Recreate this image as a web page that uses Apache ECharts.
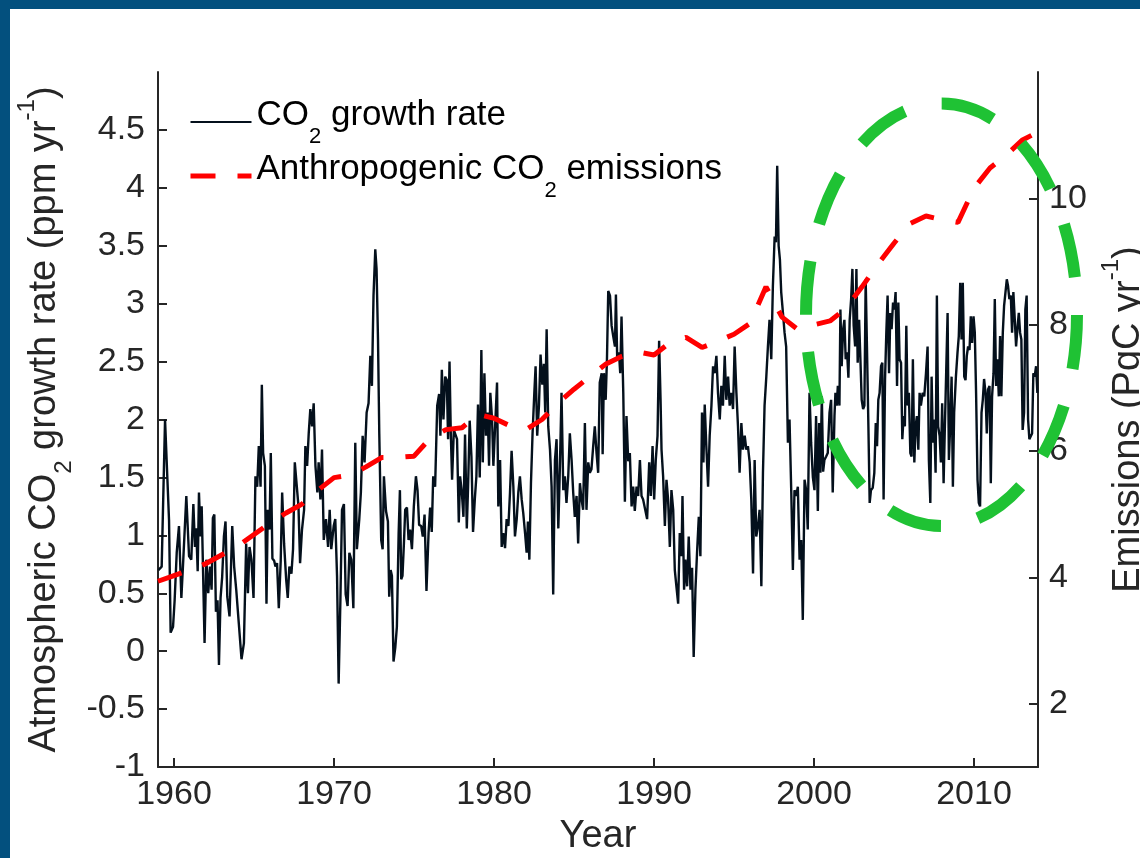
<!DOCTYPE html>
<html><head><meta charset="utf-8">
<script src="https://cdn.jsdelivr.net/npm/echarts@6/dist/echarts.min.js"></script>
<style>html,body{margin:0;padding:0;background:#fff}#c{width:1140px;height:858px}</style>
</head><body><div id="c"></div>
<script>
// Monthly-ish CO2 growth rate readings [year, ppm/yr]
const co2Growth = [
[1959.02,0.70],[1959.23,0.73],[1959.44,2.00],[1959.58,1.51],[1959.69,1.13],[1959.79,0.16],[1959.94,0.21],[1960.04,0.44],[1960.17,0.85],[1960.31,1.08],[1960.46,0.46],[1960.58,0.79],[1960.77,1.34],[1960.94,0.82],[1961.08,0.79],[1961.21,1.27],[1961.31,0.90],[1961.39,1.06],[1961.48,0.69],[1961.56,1.37],[1961.66,0.99],[1961.73,1.25],[1961.81,0.73],[1961.91,0.07],[1962.02,0.79],[1962.14,0.50],[1962.25,0.73],[1962.35,0.53],[1962.43,1.15],[1962.52,1.18],[1962.62,0.34],[1962.72,0.44],[1962.81,-0.12],[1962.91,0.46],[1963.01,0.64],[1963.12,0.99],[1963.22,1.12],[1963.33,0.47],[1963.47,0.30],[1963.64,1.08],[1963.76,0.73],[1963.89,0.53],[1964.05,0.24],[1964.22,-0.07],[1964.37,0.07],[1964.51,0.93],[1964.62,0.50],[1964.72,0.90],[1964.84,0.79],[1964.97,0.46],[1965.09,1.51],[1965.20,1.42],[1965.30,1.77],[1965.41,1.42],[1965.49,2.30],[1965.57,1.71],[1965.68,1.60],[1965.78,0.41],[1965.86,1.22],[1965.97,1.05],[1966.05,1.71],[1966.15,0.80],[1966.26,0.78],[1966.34,0.73],[1966.44,0.76],[1966.55,0.37],[1966.67,0.78],[1966.76,1.37],[1966.88,0.93],[1967.01,0.62],[1967.11,0.46],[1967.21,0.73],[1967.34,0.67],[1967.44,0.88],[1967.55,1.63],[1967.65,1.64],[1967.78,1.25],[1967.88,0.76],[1968.00,1.05],[1968.13,1.22],[1968.21,1.77],[1968.32,1.60],[1968.42,1.88],[1968.52,2.09],[1968.63,1.94],[1968.73,2.14],[1968.84,1.60],[1968.96,1.37],[1969.04,1.63],[1969.15,1.31],[1969.25,1.74],[1969.36,0.96],[1969.50,1.14],[1969.63,0.90],[1969.73,1.22],[1969.83,0.88],[1969.98,1.08],[1970.08,1.14],[1970.19,0.65],[1970.29,-0.28],[1970.40,0.44],[1970.50,1.22],[1970.62,1.27],[1970.73,0.49],[1970.85,0.39],[1970.96,0.85],[1971.08,0.79],[1971.21,0.37],[1971.33,1.80],[1971.43,0.88],[1971.58,1.14],[1971.68,1.37],[1971.79,1.86],[1971.91,1.63],[1972.04,2.06],[1972.16,2.14],[1972.27,2.55],[1972.37,2.29],[1972.47,3.07],[1972.58,3.47],[1972.66,3.30],[1972.75,2.69],[1972.83,1.88],[1972.95,0.96],
[1973.04,0.88],[1973.12,1.51],[1973.25,1.21],[1973.37,1.12],[1973.45,0.47],[1973.54,0.70],[1973.62,0.65],[1973.72,-0.09],[1973.83,0.03],[1973.93,0.21],[1974.04,1.02],[1974.12,1.39],[1974.20,0.62],[1974.28,0.65],[1974.37,0.93],[1974.45,1.22],[1974.56,1.24],[1974.66,0.96],[1974.76,1.05],[1974.87,0.88],[1974.99,1.25],[1975.12,1.51],[1975.22,1.39],[1975.32,1.09],[1975.45,1.08],[1975.55,0.99],[1975.66,1.18],[1975.78,0.52],[1975.91,1.02],[1976.01,1.24],[1976.11,1.03],[1976.20,1.51],[1976.32,1.42],[1976.45,2.12],[1976.57,2.22],[1976.65,1.86],[1976.74,2.43],[1976.84,2.00],[1976.95,2.37],[1977.05,2.34],[1977.13,1.83],[1977.22,2.50],[1977.30,1.88],[1977.38,1.48],[1977.49,1.91],[1977.59,1.91],[1977.69,1.83],[1977.80,1.11],[1977.88,1.51],[1977.99,1.37],[1978.09,1.16],[1978.19,1.87],[1978.30,1.06],[1978.38,1.42],[1978.48,1.99],[1978.59,1.68],[1978.69,1.03],[1978.80,1.31],[1978.90,1.51],[1979.00,2.13],[1979.11,1.50],[1979.21,2.60],[1979.30,1.63],[1979.40,2.40],[1979.50,1.86],[1979.61,2.06],[1979.69,1.60],[1979.77,2.23],[1979.88,2.00],[1979.96,1.60],[1980.07,1.94],[1980.19,2.32],[1980.27,1.25],[1980.38,1.65],[1980.48,0.90],[1980.58,1.02],[1980.69,0.89],[1980.79,1.14],[1980.90,1.08],[1981.00,1.37],[1981.10,1.73],[1981.21,1.42],[1981.31,0.99],[1981.42,1.14],[1981.52,1.37],[1981.62,1.51],[1981.73,1.31],[1981.83,1.19],[1981.94,1.02],[1982.04,0.85],[1982.12,1.12],[1982.21,0.79],[1982.31,1.45],[1982.41,1.88],[1982.52,2.23],[1982.60,2.46],[1982.70,1.86],[1982.81,2.12],[1982.91,2.56],[1983.02,2.30],[1983.12,2.48],[1983.20,2.06],[1983.29,2.78],[1983.39,1.94],[1983.50,1.74],[1983.60,1.42],[1983.70,0.49],[1983.81,1.65],[1983.91,1.83],[1984.02,1.06],[1984.12,1.60],[1984.22,2.23],[1984.33,1.39],[1984.43,1.51],[1984.53,1.28],[1984.64,1.51],[1984.74,1.88],[1984.85,1.65],[1984.95,1.37],[1985.05,1.16],[1985.16,1.34],[1985.26,0.93],[1985.37,1.45],[1985.47,1.31],[1985.57,1.22],[1985.68,1.97],[1985.78,1.22],[1985.89,1.63],[1985.99,1.54],[1986.09,1.57],[1986.20,1.77],[1986.30,1.94],[1986.41,1.71],[1986.51,1.54],[1986.61,2.32],
[1986.73,2.40],[1986.79,1.70],[1986.87,2.40],[1986.98,2.17],[1987.06,2.52],[1987.14,3.11],[1987.25,3.07],[1987.35,2.81],[1987.45,2.72],[1987.56,2.63],[1987.62,3.08],[1987.70,2.52],[1987.81,2.58],[1987.89,2.40],[1987.97,2.89],[1988.08,2.23],[1988.18,1.29],[1988.28,2.03],[1988.39,1.64],[1988.49,1.71],[1988.60,1.25],[1988.70,1.42],[1988.80,1.21],[1988.91,1.42],[1989.01,1.34],[1989.12,1.65],[1989.22,1.34],[1989.32,1.31],[1989.43,1.31],[1989.57,1.14],[1989.70,1.63],[1989.80,1.34],[1989.91,1.77],[1990.01,1.31],[1990.11,1.65],[1990.22,1.86],[1990.32,2.68],[1990.41,2.17],[1990.47,1.74],[1990.57,1.51],[1990.68,1.08],[1990.78,1.48],[1990.88,1.31],[1990.99,0.90],[1991.09,1.39],[1991.20,1.22],[1991.30,0.70],[1991.40,0.56],[1991.51,0.41],[1991.61,1.02],[1991.72,0.82],[1991.78,1.34],[1991.88,0.53],[1991.96,0.79],[1992.07,0.56],[1992.17,0.99],[1992.28,0.53],[1992.38,0.72],[1992.48,-0.05],[1992.59,0.53],[1992.69,0.85],[1992.80,1.16],[1992.90,0.82],[1993.00,2.06],[1993.09,1.63],[1993.17,2.13],[1993.27,1.77],[1993.38,1.42],[1993.48,1.86],[1993.59,2.12],[1993.69,2.46],[1993.79,2.40],[1993.90,2.55],[1994.00,2.23],[1994.11,2.00],[1994.21,2.29],[1994.31,2.12],[1994.42,2.55],[1994.52,2.17],[1994.63,2.37],[1994.73,2.12],[1994.83,2.23],[1994.94,2.09],[1995.04,2.63],[1995.15,2.23],[1995.25,1.94],[1995.35,1.54],[1995.46,1.97],[1995.56,1.74],[1995.67,1.86],[1995.77,1.74],[1995.87,1.77],[1995.98,1.63],[1996.08,1.31],[1996.19,0.67],[1996.29,1.65],[1996.39,0.99],[1996.50,1.08],[1996.60,1.22],[1996.71,0.56],[1996.81,1.54],[1996.91,2.12],[1997.02,2.37],[1997.12,2.63],[1997.22,2.86],[1997.33,2.52],[1997.43,3.15],[1997.54,3.58],[1997.62,3.53],[1997.70,4.19],[1997.79,3.50],[1997.87,3.38],[1997.95,3.10],[1998.06,2.92],[1998.16,2.75],[1998.26,2.63],[1998.37,1.80],[1998.47,2.00],[1998.58,1.37],[1998.68,0.70],[1998.78,1.39],[1998.89,1.34],[1998.99,1.42],[1999.10,0.79],[1999.20,0.96],[1999.30,0.27],[1999.41,1.48],[1999.51,1.39],[1999.61,1.05],[1999.72,2.23],[1999.82,1.80],[1999.93,1.50],[2000.03,1.39],[2000.13,2.03],[2000.24,1.21],
[2000.32,1.97],[2000.40,1.54],[2000.49,2.20],[2000.57,1.55],[2000.65,1.65],[2000.76,1.68],[2000.86,1.71],[2000.97,2.06],[2001.07,2.17],[2001.17,1.37],[2001.28,2.03],[2001.34,2.23],[2001.42,2.12],[2001.49,2.29],[2001.59,2.12],[2001.65,2.95],[2001.73,2.46],[2001.82,2.78],[2001.90,2.86],[2001.98,2.52],[2002.07,2.58],[2002.15,2.36],[2002.23,2.86],[2002.32,3.04],[2002.40,3.30],[2002.48,2.81],[2002.57,2.63],[2002.65,3.30],[2002.73,2.49],[2002.82,2.86],[2002.90,2.52],[2002.98,2.17],[2003.07,2.09],[2003.15,2.12],[2003.23,3.21],[2003.31,2.63],[2003.40,1.94],[2003.48,1.28],[2003.56,1.39],[2003.67,1.41],[2003.77,1.54],[2003.86,1.97],[2003.94,1.77],[2004.02,2.17],[2004.10,2.23],[2004.19,2.46],[2004.27,2.49],[2004.35,1.31],[2004.44,2.35],[2004.52,2.75],[2004.60,3.07],[2004.69,2.40],[2004.77,2.92],[2004.85,2.78],[2004.94,3.01],[2005.02,2.95],[2005.10,3.10],[2005.19,2.29],[2005.27,3.01],[2005.35,2.52],[2005.44,2.49],[2005.52,1.83],[2005.60,2.03],[2005.68,1.94],[2005.77,2.81],[2005.85,2.12],[2005.93,2.23],[2006.02,1.71],[2006.10,1.68],[2006.18,2.52],[2006.27,1.63],[2006.35,1.94],[2006.43,2.03],[2006.52,1.74],[2006.60,2.23],[2006.68,2.12],[2006.79,2.23],[2006.89,2.20],[2007.00,2.40],[2007.10,2.63],[2007.18,1.65],[2007.27,1.28],[2007.35,2.37],[2007.43,1.80],[2007.51,2.00],[2007.60,1.54],[2007.68,3.07],[2007.76,1.94],[2007.85,1.86],[2007.93,1.63],[2008.01,2.14],[2008.10,1.45],[2008.18,1.94],[2008.26,2.40],[2008.35,2.92],[2008.43,1.65],[2008.51,1.94],[2008.60,2.37],[2008.68,1.42],[2008.76,2.06],[2008.87,2.37],[2008.97,2.58],[2009.05,2.72],[2009.14,3.18],[2009.22,2.69],[2009.30,3.18],[2009.39,2.37],[2009.47,2.34],[2009.55,2.55],[2009.63,2.63],[2009.72,2.60],[2009.80,2.89],[2009.88,2.66],[2009.97,2.89],[2010.05,2.75],[2010.13,2.23],[2010.22,1.48],[2010.30,1.28],[2010.38,1.25],[2010.47,2.06],[2010.55,2.17],[2010.63,2.35],[2010.72,2.23],[2010.80,1.88],[2010.88,2.26],[2010.97,2.29],[2011.05,1.45],[2011.13,2.20],[2011.22,2.40],[2011.30,3.04],[2011.38,2.29],[2011.46,2.52],[2011.55,2.20],[2011.63,2.72],[2011.71,2.20],[2011.80,2.75],[2011.88,2.98],[2011.96,2.98],[2012.05,3.21],[2012.13,3.15],[2012.21,3.04],[2012.30,3.07],[2012.38,2.75],[2012.46,3.10],[2012.55,2.86],[2012.63,2.63],[2012.71,2.78],[2012.80,2.92],[2012.88,2.75],[2012.96,2.69],[2013.04,1.91],[2013.13,2.06],[2013.21,2.95],[2013.29,3.07],[2013.38,2.00],[2013.46,1.83],[2013.54,1.83],[2013.63,1.88],[2013.71,2.40],[2013.79,2.37],[2013.88,2.46],[2013.96,2.23]
];

// Anthropogenic CO2 emissions (PgC/yr), annual
const emissionYears = [1959,1960,1961,1962,1963,1964,1965,1966,1967,1968,1969,1970,1971,1972,1973,1974,1975,1976,1977,1978,1979,1980,1981,1982,1983,1984,1985,1986,1987,1988,1989,1990,1991,1992,1993,1994,1995,1996,1997,1998,1999,2000,2001,2002,2003,2004,2005,2006,2007,2008,2009,2010,2011,2012,2013,2014];
const emissionValues = [3.94,4.03,4.12,4.22,4.36,4.50,4.68,4.86,5.02,5.16,5.38,5.58,5.62,5.75,5.90,5.90,5.92,6.20,6.34,6.37,6.58,6.52,6.40,6.34,6.50,6.76,6.98,7.18,7.38,7.50,7.57,7.52,7.72,7.80,7.64,7.74,7.85,8.02,8.60,8.12,7.92,8.00,8.06,8.26,8.60,8.96,9.29,9.60,9.72,9.66,9.62,10.16,10.48,10.68,10.92,11.05];

const yearTicks = [1960,1970,1980,1990,2000,2010];
const rateTicks = [-1,-0.5,0,0.5,1,1.5,2,2.5,3,3.5,4,4.5];
const emissionTicks = [2,4,6,8,10];

const seriesNames = ['CO2 growth rate','Anthropogenic CO2 emissions'];
const legendLabels = {
  'CO2 growth rate': '{n|CO}{s|2}{n| growth rate}',
  'Anthropogenic CO2 emissions': '{n|Anthropogenic CO}{s|2}{n| emissions}'
};

const FONT = 'Liberation Sans, Arial, Helvetica, sans-serif';
const INK = '#262626';
const plain = function (v) { return String(v); };

const chart = echarts.init(document.getElementById('c'), null, {renderer:'canvas'});
const axisRich = {
  n: {fontSize: 38, lineHeight: 44, fontFamily: FONT, color: INK, verticalAlign: 'middle'},
  s: {fontSize: 24, lineHeight: 24, fontFamily: FONT, color: INK, verticalAlign: 'middle', padding: [38,0,0,0]},
  p: {fontSize: 24, lineHeight: 24, fontFamily: FONT, color: INK, verticalAlign: 'middle', padding: [0,0,36,0]}
};

chart.setOption({
  animation: false,
  backgroundColor: '#ffffff',
  grid: {left: 158, top: 72, right: 102, bottom: 91, containLabel: false, outerBoundsMode: 'none'},
  legend: {
    orient: 'vertical', left: 188, top: 96, padding: 0, itemGap: 2,
    itemWidth: 61, itemHeight: 14, selectedMode: false,
    itemStyle: {opacity: 0},
    data: [
      {name: seriesNames[0], lineStyle: {width: 2}, itemStyle: {opacity: 0}},
      {name: seriesNames[1], lineStyle: {width: 5}, itemStyle: {opacity: 0}}
    ],
    formatter: function (name) { return legendLabels[name]; },
    textStyle: {
      fontFamily: FONT, fontSize: 35, color: '#000',
      rich: {
        n: {fontSize: 35, lineHeight: 40, fontFamily: FONT, color: '#000', verticalAlign: 'middle', padding: [0,0,14,0]},
        s: {fontSize: 22, lineHeight: 22, fontFamily: FONT, color: '#000', verticalAlign: 'middle', padding: [30,0,0,0]}
      }
    }
  },
  xAxis: {
    type: 'value', min: 1959, max: 2014,
    name: 'Year', nameLocation: 'middle', nameGap: 48, nameMoveOverlap: false,
    nameTextStyle: {fontFamily: FONT, fontSize: 38, color: INK, lineHeight: 44},
    axisLine: {show: true, onZero: false, lineStyle: {color: INK, width: 2}},
    axisTick: {show: true, inside: true, length: 9, customValues: yearTicks, lineStyle: {color: INK, width: 2}},
    axisLabel: {customValues: yearTicks, formatter: plain, fontFamily: FONT, fontSize: 34, color: INK, margin: 11, lineHeight: 34},
    splitLine: {show: false}
  },
  yAxis: [
    {
      type: 'value', min: -1, max: 5, position: 'left',
      name: '{n|Atmospheric CO}{s|2}{n| growth rate (ppm yr}{p|-1}{n|)}',
      nameLocation: 'middle', nameRotate: 90, nameGap: 91, nameMoveOverlap: false,
      nameTextStyle: {fontFamily: FONT, fontSize: 38, color: INK, rich: axisRich},
      axisLine: {show: true, onZero: false, lineStyle: {color: INK, width: 2}},
      axisTick: {show: true, inside: true, length: 9, customValues: rateTicks, lineStyle: {color: INK, width: 2}},
      axisLabel: {customValues: rateTicks, formatter: plain, fontFamily: FONT, fontSize: 34, color: INK, margin: 13},
      splitLine: {show: false}
    },
    {
      type: 'value', min: 1, max: 12, position: 'right',
      name: '{n|Emissions (PgC yr}{p|-1}{n|)}',
      nameLocation: 'middle', nameRotate: 90, nameGap: 69, nameMoveOverlap: false,
      nameTextStyle: {fontFamily: FONT, fontSize: 38, color: INK, rich: axisRich},
      axisLine: {show: true, onZero: false, lineStyle: {color: INK, width: 2}},
      axisTick: {show: true, inside: true, length: 9, customValues: emissionTicks, lineStyle: {color: INK, width: 2}},
      axisLabel: {customValues: emissionTicks, formatter: plain, fontFamily: FONT, fontSize: 34, color: INK, margin: 11},
      splitLine: {show: false}
    }
  ],
  series: [
    {
      name: seriesNames[0], type: 'line', xAxisIndex: 0, yAxisIndex: 0,
      data: co2Growth, symbol: 'none', showSymbol: false, smooth: false,
      itemStyle: {color: '#04101c'},
      lineStyle: {color: '#04101c', width: 2.4}, z: 2
    },
    {
      name: seriesNames[1], type: 'line', xAxisIndex: 0, yAxisIndex: 1,
      data: emissionYears.map(function (y, i) { return [y, emissionValues[i]]; }),
      symbol: 'none', showSymbol: false, smooth: false,
      itemStyle: {color: '#ff0000'},
      lineStyle: {color: '#ff0000', width: 5, type: [25, 22], cap: 'butt'}, z: 3
    }
  ],
  graphic: [
    {type: 'rect', z: 0, shape: {x: 0, y: 0, width: 1140, height: 9}, style: {fill: '#03507e'}},
    {type: 'rect', z: 0, shape: {x: 0, y: 0, width: 10, height: 858}, style: {fill: '#03507e'}},
    {type: 'ellipse', z: 100, shape: {cx: 941.5, cy: 314.75, rx: 135.5, ry: 211.25},
      style: {fill: null, stroke: '#1fc234', lineWidth: 12, lineDash: [54, 37.9], lineDashOffset: 0}}
  ]
});
</script>
</body></html>
